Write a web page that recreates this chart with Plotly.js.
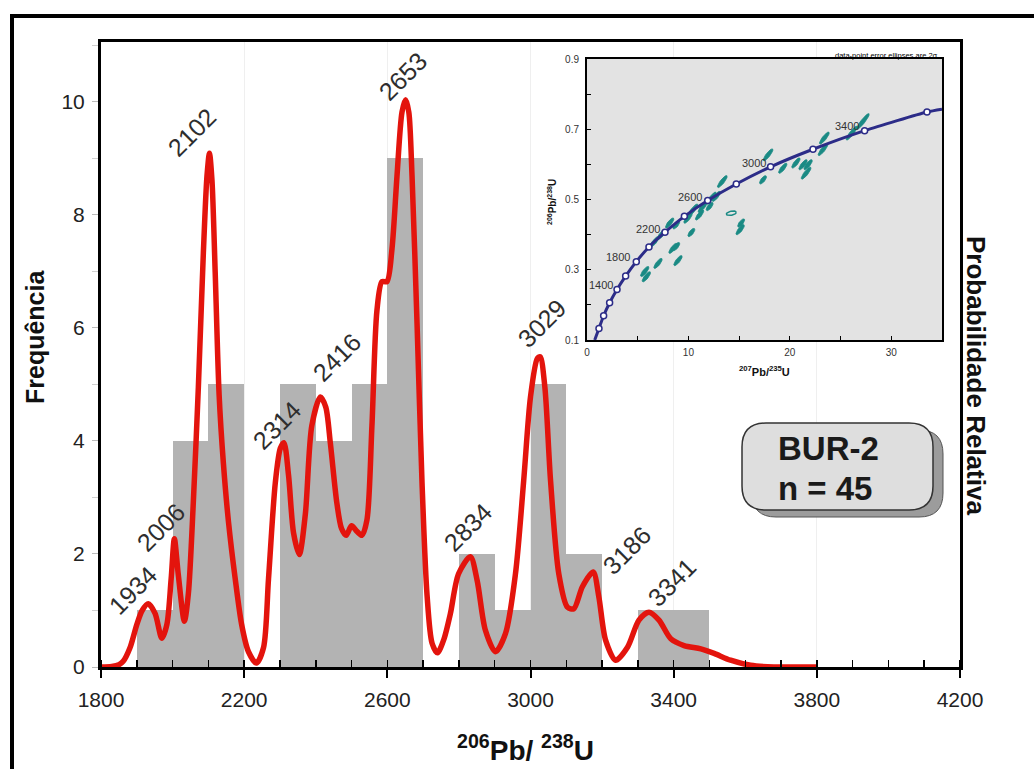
<!DOCTYPE html>
<html><head><meta charset="utf-8">
<script src="https://cdn.plot.ly/plotly-3.0.1.min.js"></script>
<style>html,body{margin:0;padding:0;background:#fff;} #chart{width:1034px;height:769px;}</style>
</head><body><div id="chart"></div>
<script>
// ---------------- DATA ----------------
const binStart = [1900,2000,2100,2200,2300,2400,2500,2600,2700,2800,2900,3000,3100,3200,3300,3400];
const binCount = [1,4,5,0,5,4,5,9,0,2,1,5,2,0,1,1];

const pdfAge = [1800,1830,1850,1862,1881,1900,1915,1932,1951,1970,1984,1996,2005,2016,2033,2044,2058,2072,2086,2096,2103,2110,2119,2130,2142,2156,2175,2193,2212,2234,2254,2268,2287,2301,2311,2324,2338,2354,2371,2389,2413,2428,2441,2459,2472,2485,2500,2515,2529,2543,2557,2571,2585,2599,2613,2627,2641,2651,2660,2669,2683,2697,2711,2725,2740,2758,2776,2799,2832,2851,2874,2902,2930,2958,2981,3000,3019,3027,3040,3056,3079,3103,3121,3145,3175,3191,3210,3238,3271,3303,3331,3359,3392,3429,3476,3513,3559,3615,3680,3740,3800];
const pdfProb = [0,0.01,0.04,0.1,0.34,0.75,1.0,1.12,0.95,0.51,0.75,1.56,2.27,1.63,0.81,1.29,2.92,4.95,7.33,8.68,9.09,8.62,6.99,4.82,3.6,2.58,1.56,0.75,0.27,0.07,0.34,1.56,3.26,3.87,3.97,3.39,2.37,1.99,2.71,4.27,4.78,4.6,3.95,2.9,2.45,2.33,2.5,2.4,2.33,2.6,4.27,6.31,6.82,6.82,7.4,8.69,9.82,10.04,9.82,8.69,6.08,3.25,1.27,0.42,0.25,0.49,0.94,1.65,1.95,1.53,0.65,0.27,0.59,1.65,3.3,4.78,5.46,5.49,4.96,3.3,1.65,1.06,1.03,1.42,1.68,1.24,0.47,0.12,0.35,0.83,0.97,0.83,0.5,0.38,0.32,0.24,0.12,0.03,0,0,0];

const peakAges = [1934,2006,2102,2314,2416,2653,2834,3029,3186,3341];

// inset: concordia
const concX = [0.76,1.18,1.64,2.23,2.96,3.81,4.86,6.11,7.69,9.6,11.9,14.72,18.1,22.28,27.37,33.52,35.0];
const concY = [0.1,0.133,0.169,0.206,0.244,0.282,0.323,0.365,0.407,0.452,0.497,0.544,0.593,0.643,0.696,0.749,0.757];
const concAges = [1400,1800,2200,2600,3000,3400];

// inset: data-point error ellipses (207Pb/235U, 206Pb/238U, half-length)
const ellX = [5.69,5.85,7.0,6.67,7.33,8.15,8.8,8.48,8.8,8.97,10.29,9.96,10.45,11.1,11.44,12.26,12.75,12.09,13.34,15.2,15.1,17.35,17.85,19.3,20.6,21.3,21.6,21.8,23.27,23.4,26.1,27.2];
const ellY = [0.295,0.28,0.318,0.38,0.40,0.433,0.428,0.361,0.366,0.326,0.406,0.447,0.47,0.456,0.48,0.504,0.509,0.48,0.551,0.433,0.414,0.556,0.627,0.589,0.604,0.599,0.575,0.599,0.642,0.675,0.689,0.722];
const ellLen = [5,5,5,5,5,5,4,5,4,5,4,5,6,5,6,6,5,4,6,4,5,4,6,5,5,5,6,5,6,6,7,8];
const openEllX = [14.23];
const openEllY = [0.461];

// ---------------- LAYOUT GEOMETRY ----------------
const W = 1034, H = 769;
const PL = 101, PR = 960, PT = 42, PB = 667;
const px2x = p => (p - PL) / (PR - PL);
const px2y = p => (PB - p) / (PB - PT);
const FONT = 'Liberation Sans, Arial, sans-serif';

// inset box (pixels)
const IL = 587, IR = 942, IT = 59, IB = 340;
const insetXRange = [0, 35], insetYRange = [0.1, 0.9];
const sxp = (insetXRange[1]-insetXRange[0])/(IR-IL);
const syp = (insetYRange[1]-insetYRange[0])/(IB-IT);

// ---------------- TRACES ----------------
const binCenter = binStart.map(b => b + 50);
const traces = [];
traces.push({type:'bar', x: binCenter, y: binCount, width: 100,
  marker:{color:'#b3b3b3', line:{width:0}}, hoverinfo:'skip'});
traces.push({type:'scatter', mode:'lines', x: pdfAge, y: pdfProb,
  line:{color:'#e3140d', width:5.5, shape:'spline', smoothing:0.8}, hoverinfo:'skip'});

// ellipses
function ellipse(cx, cy, a, b, angDeg){
  const xs=[], ys=[]; const th = angDeg*Math.PI/180;
  for(let i=0;i<=24;i++){
    const t = i/24*2*Math.PI;
    const dx = a*Math.cos(t)*Math.cos(th) - b*Math.sin(t)*Math.sin(th);
    const dy = a*Math.cos(t)*Math.sin(th) + b*Math.sin(t)*Math.cos(th);
    xs.push(cx + dx*sxp); ys.push(cy + dy*syp);
  }
  return [xs, ys];
}
let ex=[], ey=[];
ellX.forEach((x,i)=>{ const [xs,ys]=ellipse(x, ellY[i], ellLen[i]*1.25, 2.0, 52); ex=ex.concat(xs,[null]); ey=ey.concat(ys,[null]); });
traces.push({type:'scatter', mode:'lines', x:ex, y:ey, xaxis:'x3', yaxis:'y3', fill:'toself',
  fillcolor:'#1a8a84', line:{color:'#1a8a84', width:0.8}, hoverinfo:'skip'});
let ox=[], oy=[];
openEllX.forEach((x,i)=>{ const [xs,ys]=ellipse(x, openEllY[i], 5, 2, 12); ox=ox.concat(xs,[null]); oy=oy.concat(ys,[null]); });
traces.push({type:'scatter', mode:'lines', x:ox, y:oy, xaxis:'x3', yaxis:'y3',
  line:{color:'#1a8a84', width:1.5}, hoverinfo:'skip'});
// concordia
traces.push({type:'scatter', mode:'lines', x:concX, y:concY, xaxis:'x3', yaxis:'y3',
  line:{color:'#2c2c88', width:3, shape:'spline', smoothing:0.6}, hoverinfo:'skip'});
traces.push({type:'scatter', mode:'markers', x:concX.slice(1,-1), y:concY.slice(1,-1), xaxis:'x3', yaxis:'y3',
  marker:{symbol:'circle', size:6, color:'#ffffff', line:{color:'#2c2c88', width:1.5}}, hoverinfo:'skip'});

// ---------------- ANNOTATIONS ----------------
const ann = [];
const peakLabelPx = [[133,590],[161,527],[192,132],[277,425],[337,357],[403,76],[468,527],[542,323],[627,550],[672,582]];
peakAges.forEach((a,i)=>{
  ann.push({xref:'paper', yref:'paper', x:px2x(peakLabelPx[i][0]), y:px2y(peakLabelPx[i][1]),
    text:String(a), showarrow:false, textangle:-45, xanchor:'center', yanchor:'middle',
    font:{family:FONT, size:25, color:'#2e2e2e'}});
});
// concordia age labels
const concLabelPx = [[601,285],[618,257],[648,229],[690,197],[754,163],[847,126]];
concAges.forEach((a,i)=>{
  ann.push({xref:'paper', yref:'paper', x:px2x(concLabelPx[i][0]), y:px2y(concLabelPx[i][1]),
    text:String(a), showarrow:false, xanchor:'center', yanchor:'middle',
    font:{family:FONT, size:11, color:'#333333'}});
});
// axis titles
ann.push({xref:'paper', yref:'paper', x:px2x(35), y:px2y(337), text:'<b>Frequência</b>', showarrow:false,
  textangle:-90, font:{family:FONT, size:25, color:'#111'}, xanchor:'center', yanchor:'middle'});
ann.push({xref:'paper', yref:'paper', x:px2x(976), y:px2y(375), text:'<b>Probabilidade Relativa</b>', showarrow:false,
  textangle:90, font:{family:FONT, size:26, color:'#111'}, xanchor:'center', yanchor:'middle'});
ann.push({xref:'paper', yref:'paper', x:px2x(525), y:px2y(748), text:'<b><sup>206</sup>Pb/ <sup>238</sup>U</b>', showarrow:false,
  font:{family:FONT, size:28, color:'#111'}, xanchor:'center', yanchor:'middle'});
// inset titles
ann.push({xref:'paper', yref:'paper', x:px2x(552), y:px2y(202), text:'<b><sup>206</sup>Pb/<sup>238</sup>U</b>', showarrow:false,
  textangle:-90, font:{family:FONT, size:10, color:'#111'}, xanchor:'center', yanchor:'middle'});
ann.push({xref:'paper', yref:'paper', x:px2x(764), y:px2y(371), text:'<b><sup>207</sup>Pb/<sup>235</sup>U</b>', showarrow:false,
  font:{family:FONT, size:11, color:'#111'}, xanchor:'center', yanchor:'middle'});
ann.push({xref:'paper', yref:'paper', x:px2x(940), y:px2y(55), text:'data-point error ellipses are 2σ', showarrow:false,
  font:{family:FONT, size:7.5, color:'#000'}, xanchor:'right', yanchor:'middle'});
// BUR-2 box text
ann.push({xref:'paper', yref:'paper', x:px2x(776), y:px2y(448), text:'<b>BUR-2</b>', showarrow:false,
  font:{family:FONT, size:33, color:'#1a1a1a'}, xanchor:'left', yanchor:'middle'});
ann.push({xref:'paper', yref:'paper', x:px2x(776), y:px2y(488), text:'<b>n = 45</b>', showarrow:false,
  font:{family:FONT, size:33, color:'#1a1a1a'}, xanchor:'left', yanchor:'middle'});

// ---------------- SHAPES ----------------
function rrPath(x0,y0,x1,y1,r){
  const P=(x,y)=>px2x(x)+','+px2y(y);
  return 'M'+P(x0+r,y0)+' L'+P(x1-r,y0)+' Q'+P(x1,y0)+' '+P(x1,y0+r)+
    ' L'+P(x1,y1-r)+' Q'+P(x1,y1)+' '+P(x1-r,y1)+
    ' L'+P(x0+r,y1)+' Q'+P(x0,y1)+' '+P(x0,y1-r)+
    ' L'+P(x0,y0+r)+' Q'+P(x0,y0)+' '+P(x0+r,y0)+' Z';
}
const shapes = [
  {type:'rect', xref:'x3', yref:'y3', x0:insetXRange[0], x1:insetXRange[1], y0:insetYRange[0], y1:insetYRange[1],
    fillcolor:'#e3e3e3', line:{width:0}, layer:'below'},
  {type:'path', xref:'paper', yref:'paper', path:rrPath(752,430,943,517,24), fillcolor:'#9c9c9c', line:{color:'#555', width:1}, layer:'above'},
  {type:'path', xref:'paper', yref:'paper', path:rrPath(742,423,933,510,24), fillcolor:'#dedede', line:{color:'#333', width:1.5}, layer:'above'},
  {type:'rect', xref:'paper', yref:'paper', x0:px2x(12), x1:px2x(1060), y0:px2y(790), y1:px2y(16),
    fillcolor:'rgba(0,0,0,0)', line:{color:'#000', width:4}, layer:'above'}
];

// ---------------- LAYOUT ----------------
const layout = {
  width:W, height:H,
  margin:{l:PL, r:W-PR, t:PT, b:H-PB, pad:0},
  paper_bgcolor:'#ffffff', plot_bgcolor:'#ffffff',
  showlegend:false, bargap:0,
  font:{family:FONT, color:'#222'},
  xaxis:{range:[1800,4200], tick0:1800, dtick:400, ticks:'outside', ticklen:8, tickwidth:2, tickcolor:'#000',
    showline:true, linewidth:3, linecolor:'#000', mirror:true, showgrid:true, gridcolor:'#efefef', gridwidth:1,
    zeroline:false, tickfont:{family:FONT, size:21, color:'#222'}, ticklabelstandoff:4,
    minor:{dtick:100, ticks:'inside', ticklen:7, tickwidth:1.5, tickcolor:'#000', showgrid:false}},
  yaxis:{range:[0,11.06], tick0:0, dtick:2, ticks:'outside', ticklen:6, tickwidth:1, tickcolor:'#bbbbbb',
    showline:true, linewidth:3, linecolor:'#000', mirror:true, showgrid:false, zeroline:false,
    tickfont:{family:FONT, size:21, color:'#222'}, ticklabelstandoff:3,
    minor:{dtick:1, ticks:'outside', ticklen:6, tickwidth:1, tickcolor:'#d0d0d0', showgrid:false}},
  xaxis3:{domain:[px2x(IL), px2x(IR)], anchor:'y3', range:insetXRange, tickvals:[0,10,20,30],
    ticks:'inside', ticklen:4, tickwidth:1, tickcolor:'#000', showline:true, linewidth:2, linecolor:'#000', mirror:true,
    showgrid:false, zeroline:false, tickfont:{family:FONT, size:10, color:'#333'}, ticklabelstandoff:2,
    minor:{tickvals:[5,15,25], ticks:'inside', ticklen:4, tickwidth:1, tickcolor:'#000', showgrid:false}},
  yaxis3:{domain:[px2y(IB), px2y(IT)], anchor:'x3', range:insetYRange, tickvals:[0.1,0.3,0.5,0.7,0.9],
    ticks:'inside', ticklen:4, tickwidth:1, tickcolor:'#000', showline:true, linewidth:2, linecolor:'#000', mirror:true,
    showgrid:false, zeroline:false, tickfont:{family:FONT, size:10, color:'#333'}, ticklabelstandoff:4,
    minor:{tickvals:[0.2,0.4,0.6,0.8], ticks:'inside', ticklen:4, tickwidth:1, tickcolor:'#000', showgrid:false}},
  annotations:ann,
  shapes:shapes
};

Plotly.newPlot('chart', traces, layout, {staticPlot:true, displayModeBar:false});
</script>
</body></html>
